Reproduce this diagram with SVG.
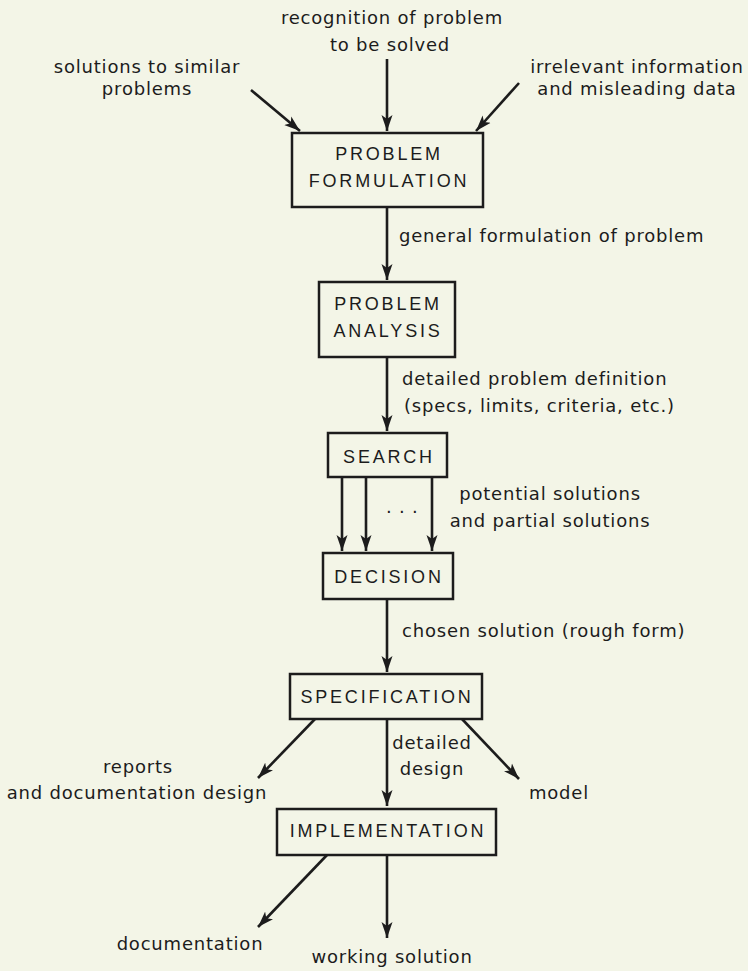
<svg xmlns="http://www.w3.org/2000/svg" width="748" height="971" viewBox="0 0 748 971">
<style>
.bg{fill:#f3f5e7}
.box{fill:none;stroke:#1c1c1c;stroke-width:2.5}
.bt{font-family:"Liberation Sans",Arial,sans-serif;font-size:18px;letter-spacing:2.8px;fill:#1c1c1c;text-anchor:middle}
.lb{font-family:"DejaVu Sans",sans-serif;font-size:18px;letter-spacing:0.8px;fill:#1c1c1c}
.mid{text-anchor:middle}
.ar{fill:none;stroke:#1c1c1c;stroke-width:2.6;marker-end:url(#ah)}
</style>
<defs>
<marker id="ah" markerUnits="userSpaceOnUse" markerWidth="18" markerHeight="12" refX="16" refY="6" orient="auto">
<path d="M0,0.5 L16,6 L0,11.5 L4,6 Z" fill="#1c1c1c"/>
</marker>
</defs>
<rect class="bg" x="0" y="0" width="748" height="971"/>

<g id="input-labels">
<text class="lb mid" x="392" y="24">recognition of problem</text>
<text class="lb mid" x="390" y="51">to be solved</text>
<text class="lb mid" x="147" y="73">solutions to similar</text>
<text class="lb mid" x="147" y="95">problems</text>
<text class="lb mid" x="637" y="73">irrelevant information</text>
<text class="lb mid" x="637" y="95">and misleading data</text>
</g>

<g id="problem-formulation">
<rect class="box" x="292" y="133" width="191" height="74"/>
<text class="bt" x="389" y="160">PROBLEM</text>
<text class="bt" x="389" y="187">FORMULATION</text>
</g>

<g id="problem-analysis">
<rect class="box" x="319" y="282" width="136" height="75"/>
<text class="bt" x="388" y="310">PROBLEM</text>
<text class="bt" x="388" y="337">ANALYSIS</text>
</g>

<g id="search">
<rect class="box" x="328" y="433" width="119" height="44"/>
<text class="bt" x="389" y="463">SEARCH</text>
</g>

<g id="decision">
<rect class="box" x="323" y="553" width="130" height="46"/>
<text class="bt" x="389" y="583">DECISION</text>
</g>

<g id="specification">
<rect class="box" x="290" y="674" width="192" height="45"/>
<text class="bt" x="387" y="703">SPECIFICATION</text>
</g>

<g id="implementation">
<rect class="box" x="277" y="809" width="219" height="46"/>
<text class="bt" x="388" y="837">IMPLEMENTATION</text>
</g>

<g id="connectors">
<line class="ar" x1="251" y1="90" x2="300" y2="131"/>
<line class="ar" x1="387" y1="59" x2="387" y2="131"/>
<line class="ar" x1="519" y1="83" x2="476" y2="131"/>
<line class="ar" x1="387" y1="207" x2="387" y2="280"/>
<line class="ar" x1="387" y1="357" x2="387" y2="431"/>
<line class="ar" x1="342" y1="477" x2="342" y2="551"/>
<line class="ar" x1="366" y1="477" x2="366" y2="551"/>
<line class="ar" x1="432" y1="477" x2="432" y2="551"/>
<line class="ar" x1="387" y1="599" x2="387" y2="672"/>
<line class="ar" x1="315" y1="719" x2="258" y2="778"/>
<line class="ar" x1="387" y1="719" x2="387" y2="806"/>
<line class="ar" x1="462" y1="719" x2="519" y2="779"/>
<line class="ar" x1="327" y1="855" x2="258" y2="927"/>
<line class="ar" x1="387" y1="855" x2="387" y2="938"/>
</g>

<g id="connector-labels">
<text class="lb" x="399" y="242">general formulation of problem</text>
<text class="lb" x="402" y="385">detailed problem definition</text>
<text class="lb" x="404" y="412">(specs, limits, criteria, etc.)</text>
<text class="lb" x="386" y="513" letter-spacing="4">. . .</text>
<text class="lb mid" x="550" y="500">potential solutions</text>
<text class="lb mid" x="550" y="527">and partial solutions</text>
<text class="lb" x="402" y="637">chosen solution (rough form)</text>
<text class="lb mid" x="432" y="749">detailed</text>
<text class="lb mid" x="432" y="775">design</text>
<text class="lb mid" x="138" y="773">reports</text>
<text class="lb mid" x="137" y="799">and documentation design</text>
<text class="lb mid" x="559" y="799">model</text>
<text class="lb mid" x="190" y="950">documentation</text>
<text class="lb mid" x="392" y="963">working solution</text>
</g>
</svg>
